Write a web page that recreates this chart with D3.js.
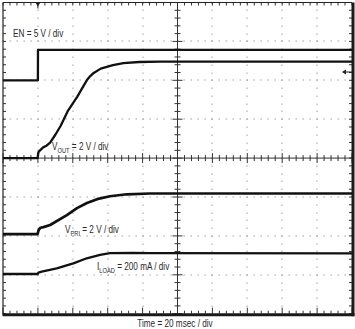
<!DOCTYPE html>
<html><head><meta charset="utf-8">
<script src="https://cdn.jsdelivr.net/npm/d3@7"></script>
<style>
html,body{margin:0;padding:0;background:#fff;}
svg{display:block;}
text{font-family:"Liberation Sans",Arial,sans-serif;fill:#2a2a2a;}
</style></head>
<body>
<script>
// ---- data (time in ms, 20 ms/div; grid = 10 x 8 divisions) ----
const enT   = [0, 20, 20.05, 200];
const enV   = [0, 0, 3.92, 3.92];                       // 5 V/div, ground at +2 div
const voutT = [0, 19.8, 20.3, 21.2, 23, 24.6, 27, 30, 33, 37, 42.5, 48, 50, 52, 56, 63, 69, 78, 90, 200];
const voutV = [0, 0, 0.3, 0.4, 0.55, 0.62, 0.8, 1.2, 1.65, 2.4, 3.15, 4.0, 4.22, 4.38, 4.6, 4.78, 4.88, 4.94, 4.96, 4.96]; // 2 V/div, ground at 0 div
const vpriT = [0, 19.8, 20.4, 21.5, 23.2, 27, 36.6, 42.4, 48.1, 53.9, 61.3, 71, 84.2, 200];
const vpriV = [0.09, 0.09, 0.3, 0.42, 0.45, 0.56, 1.07, 1.43, 1.69, 1.89, 2.04, 2.14, 2.18, 2.18]; // 2 V/div, ground at -2 div
const iloadT = [0, 19.8, 20.3, 22.2, 30.8, 40.3, 48, 55.6, 61.3, 74.5, 84.2, 200];
const iloadI = [4, 4, 11, 16, 33, 59, 85, 102, 111, 112, 111, 110]; // 200 mA/div, ground at -3 div

const chPerDiv = [5, 2, 2, 200];
const chGround = [2, 0, -2, -3];

const labels = ["EN = 5 V / div", "Time = 20 msec / div"];

// ---- layout ----
const W = 355, H = 329;
const svg = d3.select("body").append("svg").attr("width", W).attr("height", H);
const x = d3.scaleLinear().domain([0, 200]).range([3, 352]);
const y = d3.scaleLinear().domain([-4, 4]).range([313.7, 2.5]);

const g = svg.append("g");

// dotted grid
const dotColor = "#9a9a9a";
const minorT = d3.range(0, 200.001, 4);
const minorD = d3.range(-4, 4.001, 0.2);
const majorT = d3.range(20, 200, 20).filter(t => t !== 100);
const majorD = [-3, -2, -1, 1, 2, 3];
majorT.forEach(t => {
  minorD.forEach(d => {
    g.append("rect").attr("x", Math.round(x(t)) - 0.5).attr("y", Math.round(y(d)) - 0.5)
      .attr("width", 1).attr("height", 1.4).attr("fill", dotColor);
  });
});
majorD.forEach(d => {
  minorT.forEach(t => {
    g.append("rect").attr("x", Math.round(x(t)) - 0.5).attr("y", Math.round(y(d)) - 0.5)
      .attr("width", 1.4).attr("height", 1).attr("fill", dotColor);
  });
});

const axCol = "#333";
// center axes
g.append("line").attr("x1", x(0)).attr("x2", x(200)).attr("y1", y(0)).attr("y2", y(0))
  .attr("stroke", axCol).attr("stroke-width", 1);
g.append("line").attr("x1", x(100)).attr("x2", x(100)).attr("y1", y(-4)).attr("y2", y(4))
  .attr("stroke", axCol).attr("stroke-width", 1);
minorT.forEach((t, i) => {
  const L = (i % 5 === 0) ? 5 : 3;
  g.append("line").attr("x1", x(t)).attr("x2", x(t)).attr("y1", y(0) - L).attr("y2", y(0) + L)
    .attr("stroke", axCol).attr("stroke-width", 1);
  g.append("line").attr("x1", x(t)).attr("x2", x(t)).attr("y1", y(4)).attr("y2", y(4) + 3)
    .attr("stroke", axCol).attr("stroke-width", 1);
  g.append("line").attr("x1", x(t)).attr("x2", x(t)).attr("y1", y(-4)).attr("y2", y(-4) - ((i % 5 === 0) ? 6 : 3))
    .attr("stroke", axCol).attr("stroke-width", 1);
});
minorD.forEach((d, i) => {
  const L = (i % 5 === 0) ? 5 : 3;
  g.append("line").attr("x1", x(100) - L).attr("x2", x(100) + L).attr("y1", y(d)).attr("y2", y(d))
    .attr("stroke", axCol).attr("stroke-width", 1);
  g.append("line").attr("x1", x(0)).attr("x2", x(0) + 3).attr("y1", y(d)).attr("y2", y(d))
    .attr("stroke", axCol).attr("stroke-width", 1);
  g.append("line").attr("x1", x(200)).attr("x2", x(200) - 3).attr("y1", y(d)).attr("y2", y(d))
    .attr("stroke", axCol).attr("stroke-width", 1);
});

// frame
g.append("line").attr("x1", x(0)).attr("x2", x(0)).attr("y1", y(4)).attr("y2", y(-4) + 1)
  .attr("stroke", "#222").attr("stroke-width", 1.2);
g.append("line").attr("x1", x(0)).attr("x2", x(200)).attr("y1", y(4)).attr("y2", y(4))
  .attr("stroke", "#222").attr("stroke-width", 1.2);
g.append("line").attr("x1", x(200) + 1).attr("x2", x(200) + 1).attr("y1", y(4)).attr("y2", y(-4) + 2.5)
  .attr("stroke", "#1a1a1a").attr("stroke-width", 3);
g.append("line").attr("x1", x(0) - 0.5).attr("x2", x(200) + 2.5).attr("y1", y(-4) + 1).attr("y2", y(-4) + 1)
  .attr("stroke", "#1a1a1a").attr("stroke-width", 3);

// trigger marker (top) and level marker (right)
g.append("path").attr("d", `M${x(20) - 2.5},${y(4)} L${x(20) + 2.5},${y(4)} L${x(20)},${y(4) + 4} Z`).attr("fill", "#222");
g.append("line").attr("x1", x(20)).attr("x2", x(20)).attr("y1", y(4)).attr("y2", y(4) + 6).attr("stroke", "#222");
const arrY = 72;
g.append("line").attr("x1", x(200) - 9).attr("x2", x(200)).attr("y1", arrY).attr("y2", arrY).attr("stroke", "#222").attr("stroke-width", 1);
g.append("path").attr("d", `M${x(200) - 10},${arrY} L${x(200) - 6},${arrY - 2.5} L${x(200) - 6},${arrY + 2.5} Z`).attr("fill", "#222");

// traces
const traces = [[enT, enV], [voutT, voutV], [vpriT, vpriV], [iloadT, iloadI]];
const widths = [2.3, 2.3, 2.7, 2.3];
traces.forEach(([ts, vs], c) => {
  const pts = ts.map((t, i) => [x(t), y(chGround[c] + vs[i] / chPerDiv[c])]);
  g.append("path").attr("d", d3.line()(pts))
    .attr("fill", "none").attr("stroke", "#111").attr("stroke-width", widths[c])
    .attr("stroke-linejoin", "round");
});

// labels (condensed look via horizontal scale)
const fs = 10, sx = 0.82;
function label(xp, yp, main, sub, rest, anchor) {
  const t = svg.append("text").attr("transform", `translate(${xp},${yp}) scale(${sx},1)`)
    .attr("font-size", fs).attr("text-anchor", anchor || "start");
  t.append("tspan").text(main);
  if (sub) t.append("tspan").attr("font-size", 7).attr("dy", 2.5).text(sub);
  if (rest) t.append("tspan").attr("dy", sub ? -2.5 : 0).text(rest);
  return t;
}
label(13, 37, labels[0]);
label(52, 150, "V", "OUT", " = 2 V / div");
label(65, 233, "V", "PRI", " = 2 V / div");
label(97, 270, "I", "LOAD", " = 200 mA / div");
label(175, 327, labels[1], null, null, "middle");
</script>
</body></html>
